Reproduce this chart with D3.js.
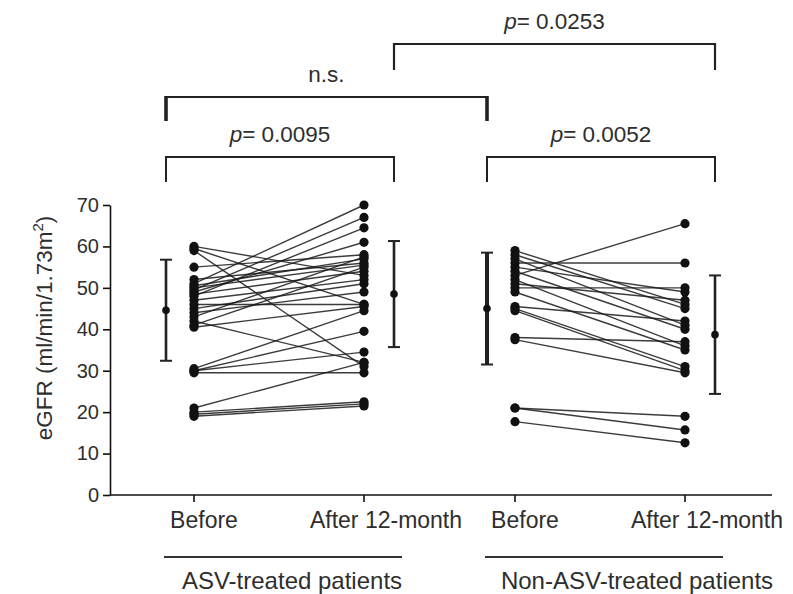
<!DOCTYPE html>
<html>
<head>
<meta charset="utf-8">
<script src="https://cdn.jsdelivr.net/npm/d3@7"></script>
<style>
  html, body { margin: 0; padding: 0; background: #fff; }
  svg text { font-family: Arial, "Liberation Sans", sans-serif; fill: #2e2e2e; }
</style>
</head>
<body>
<svg id="chart" width="793" height="594"></svg>
<script>
// ---------- data ----------
const groups = ["ASV-treated patients", "Non-ASV-treated patients"];
const timepoints = ["Before", "After 12-month"];
const yTicks = [0, 10, 20, 30, 40, 50, 60, 70];

// individual patients (eGFR), ASV-treated
const asvBefore = [60, 59.5, 59, 55, 52, 51, 50.5, 50, 49.5, 49, 48.5, 48, 47, 46, 45, 44, 43, 42, 41, 40.5, 30.5, 30, 30, 29.5, 21, 20, 19.5, 19];
const asvAfter  = [53, 46, 31, 58, 56, 70, 57, 55.5, 67, 61, 54, 64.5, 52, 46, 51, 49, 57.5, 32, 55, 45.5, 44.5, 39.5, 34.5, 29.5, 32, 22.5, 22, 21.5];
// individual patients (eGFR), non-ASV-treated
const nonBefore = [59, 58, 57, 56, 55, 54, 53, 52, 51, 50, 49, 45.5, 45, 44.5, 38, 37.5, 21, 21, 17.7];
const nonAfter  = [46, 45, 41, 56, 49, 40, 65.5, 36, 47, 50, 35, 42, 31, 30, 37, 29.5, 19, 15.7, 12.6];

// mean and SD per group [Before, After]
const asvMean = [44.6, 48.5];
const asvSD   = [12.2, 12.8];
const nonMean = [45.0, 38.7];
const nonSD   = [13.5, 14.3];

// comparisons: [group, time] -> [group, time]
const compLabels = ["0.0253", "n.s.", "0.0095", "0.0052"];
const compFrom = [[0, 1], [0, 0], [0, 0], [1, 0]];
const compTo   = [[1, 1], [1, 0], [0, 1], [1, 1]];

// ---------- layout ----------
const svg = d3.select("#chart");
const axisX = 110, axisRight = 772;

const y = d3.scaleLinear().domain([0, 70]).range([495, 205]);
const gx = d3.scaleBand().domain(groups).range([194, 194 + 642]).padding(0);
const tx = d3.scalePoint().domain(timepoints).range([0, 170]).padding(0);
const xPos = (g, t) => gx(groups[g]) + tx(timepoints[t]);
const errOff = [-28, 30];               // mean±SD bar offset from point column
const errX = (g, t) => xPos(g, t) + errOff[t];

// ---------- y axis ----------
const yAxis = d3.axisLeft(y).tickValues(yTicks).tickSize(7).tickPadding(4).tickSizeOuter(0);
const ya = svg.append("g").attr("transform", `translate(${axisX},0)`).call(yAxis);
ya.select(".domain").attr("stroke", "#111").attr("stroke-width", 1.6);
ya.selectAll(".tick line").attr("stroke", "#111").attr("stroke-width", 1.6);
ya.selectAll(".tick text").style("font-size", "20px").attr("fill", "#2e2e2e");

// x axis line
svg.append("line").attr("x1", axisX).attr("x2", axisRight)
  .attr("y1", y(0)).attr("y2", y(0)).attr("stroke", "#111").attr("stroke-width", 1.6);

// x ticks and labels
const xcats = [];
groups.forEach((g, gi) => timepoints.forEach((t, ti) => xcats.push({ gi, ti, label: t })));
svg.selectAll(".xtick").data(xcats).enter().append("line")
  .attr("x1", d => xPos(d.gi, d.ti)).attr("x2", d => xPos(d.gi, d.ti))
  .attr("y1", y(0)).attr("y2", y(0) + 7).attr("stroke", "#111").attr("stroke-width", 1.6);
svg.selectAll(".xlab").data(xcats).enter().append("text")
  .attr("x", d => xPos(d.gi, d.ti) + (d.ti === 0 ? 10 : 22))
  .attr("y", 528).attr("text-anchor", "middle").style("font-size", "23px")
  .text(d => d.label);

// group underline + labels
groups.forEach((g, gi) => {
  const x0 = xPos(gi, 0) - 30, x1 = xPos(gi, 1) + 38;
  svg.append("line").attr("x1", x0).attr("x2", x1).attr("y1", 557).attr("y2", 557)
    .attr("stroke", "#333").attr("stroke-width", 2);
  svg.append("text").attr("x", (x0 + x1) / 2 + (gi === 0 ? 9 : 33)).attr("y", 589)
    .attr("text-anchor", "middle").style("font-size", "24px").text(g);
});

// y label
const yl = svg.append("text").attr("transform", `translate(52,328) rotate(-90)`)
  .attr("text-anchor", "middle").style("font-size", "22.5px");
yl.append("tspan").text("eGFR (ml/min/1.73m");
yl.append("tspan").attr("dy", -9).style("font-size", "15px").text("2");
yl.append("tspan").attr("dy", 9).text(")");

// ---------- paired lines + points ----------
const series = [[asvBefore, asvAfter], [nonBefore, nonAfter]];
series.forEach((s, gi) => {
  const pairs = s[0].map((b, i) => [b, s[1][i]]);
  const g = svg.append("g");
  g.selectAll("line.pair").data(pairs).enter().append("line")
    .attr("x1", xPos(gi, 0)).attr("x2", xPos(gi, 1))
    .attr("y1", d => y(d[0])).attr("y2", d => y(d[1]))
    .attr("stroke", "#1a1a1a").attr("stroke-width", 1.4).attr("stroke-opacity", 0.85);
  [0, 1].forEach(ti => {
    g.selectAll(null).data(s[ti]).enter().append("circle")
      .attr("cx", xPos(gi, ti)).attr("cy", d => y(d)).attr("r", 4.6).attr("fill", "#111");
  });
});

// ---------- mean ± SD ----------
const stats = [[asvMean, asvSD], [nonMean, nonSD]];
stats.forEach((st, gi) => {
  [0, 1].forEach(ti => {
    const cx = errX(gi, ti), m = st[0][ti], sd = st[1][ti];
    const w = (gi === 1 && ti === 0) ? 4 : 2.6;
    svg.append("line").attr("x1", cx).attr("x2", cx).attr("y1", y(m + sd)).attr("y2", y(m - sd))
      .attr("stroke", "#222").attr("stroke-width", w);
    [m + sd, m - sd].forEach(v => svg.append("line")
      .attr("x1", cx - 6).attr("x2", cx + 6).attr("y1", y(v)).attr("y2", y(v))
      .attr("stroke", "#222").attr("stroke-width", 2));
    svg.append("circle").attr("cx", cx).attr("cy", y(m)).attr("r", 3.8).attr("fill", "#111");
  });
});

// ---------- comparison brackets ----------
const levels = [44, 97, 157, 157];
const drops = [26, 24, 25, 25];
const endW = [2.2, 3.6, 2, 2];
compLabels.forEach((lab, i) => {
  const xa = errX(compFrom[i][0], compFrom[i][1]);
  const xb = errX(compTo[i][0], compTo[i][1]);
  const yl0 = levels[i];
  svg.append("line").attr("x1", xa).attr("x2", xb).attr("y1", yl0).attr("y2", yl0)
    .attr("stroke", "#222").attr("stroke-width", 2);
  [xa, xb].forEach(xx => svg.append("line").attr("x1", xx).attr("x2", xx)
    .attr("y1", yl0 - 1).attr("y2", yl0 + drops[i]).attr("stroke", "#222").attr("stroke-width", endW[i]));
  const t = svg.append("text").attr("x", (xa + xb) / 2)
    .attr("y", yl0 - 15).attr("text-anchor", "middle").style("font-size", "22.5px");
  if (lab === "n.s.") {
    t.text(lab);
  } else {
    t.append("tspan").style("font-style", "italic").text("p");
    t.append("tspan").text("= " + lab);
  }
});
</script>
</body>
</html>
